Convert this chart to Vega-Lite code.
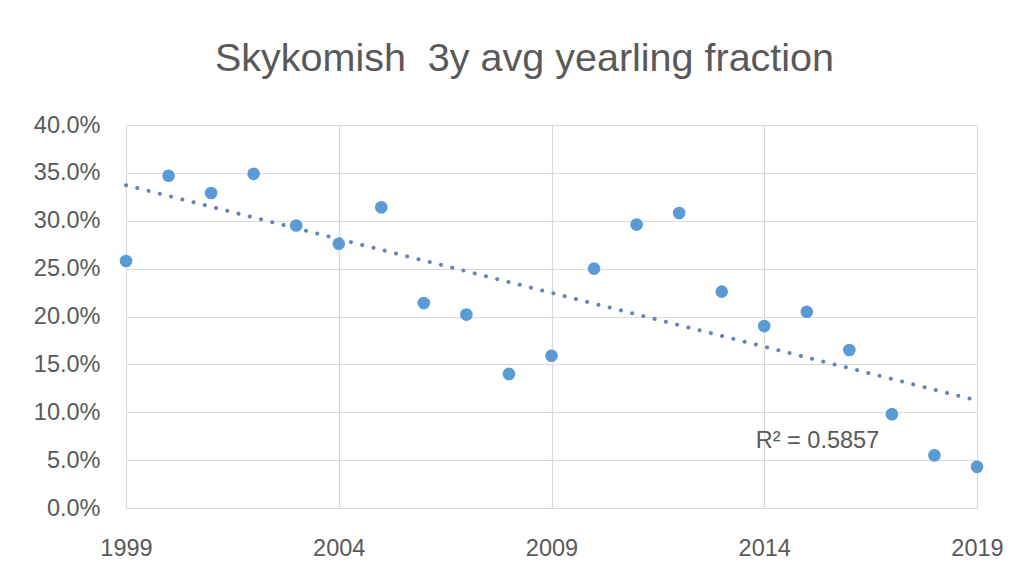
{
  "$schema": "https://vega.github.io/schema/vega-lite/v6.json",
  "autosize": "none",
  "width": 851,
  "height": 383,
  "padding": {"left": 126, "top": 125, "right": 54, "bottom": 70},
  "background": "white",
  "config": {
    "view": {"stroke": null},
    "font": "Liberation Sans",
    "axis": {
      "labelFont": "Liberation Sans",
      "labelFontSize": 23.5,
      "labelColor": "#595959",
      "gridColor": "#d9d9d9",
      "gridWidth": 1.2,
      "domain": false,
      "ticks": false,
      "title": null
    }
  },
  "title": {
    "text": "Skykomish\u00a0 3y avg yearling fraction",
    "font": "Liberation Sans",
    "fontSize": 39.5,
    "fontWeight": "normal",
    "color": "#595959",
    "anchor": "middle",
    "frame": "group",
    "dx": -27,
    "baseline": "alphabetic",
    "offset": 3
  },
  "layer": [
    {
      "data": {"name": "points"},
      "transform": [{"regression": "value", "on": "year", "extent": [1999, 2019]}],
      "mark": {"type": "line", "color": "#6585b5", "strokeWidth": 4, "strokeCap": "round", "strokeDash": [0.1, 11.5], "clip": false},
      "encoding": {
        "x": {
          "field": "year",
          "type": "quantitative",
          "scale": {"domain": [1999, 2019], "nice": false, "zero": false},
          "axis": {"values": [1999, 2004, 2009, 2014, 2019], "format": "d", "labelPadding": 28, "labelFlush": false}
        },
        "y": {
          "field": "value",
          "type": "quantitative",
          "scale": {"domain": [0, 0.4], "nice": false},
          "axis": {"values": [0, 0.05, 0.1, 0.15, 0.2, 0.25, 0.3, 0.35, 0.4], "format": ".1%", "labelPadding": 26}
        }
      }
    },
    {
      "data": {"name": "points"},
      "mark": {"type": "circle", "color": "#5b9bd5", "size": 160, "opacity": 1, "clip": false},
      "encoding": {
        "x": {"field": "year", "type": "quantitative"},
        "y": {"field": "value", "type": "quantitative"}
      }
    },
    {
      "data": {"name": "annotation"},
      "mark": {"type": "text", "align": "left", "baseline": "middle", "fontSize": 23.5, "color": "#595959", "font": "Liberation Sans"},
      "encoding": {
        "x": {"field": "year", "type": "quantitative"},
        "y": {"field": "value", "type": "quantitative"},
        "text": {"field": "label", "type": "nominal"}
      }
    }
  ],
  "datasets": {
    "points": [
      {"year": 1999, "value": 0.258},
      {"year": 2000, "value": 0.347},
      {"year": 2001, "value": 0.329},
      {"year": 2002, "value": 0.349},
      {"year": 2003, "value": 0.295},
      {"year": 2004, "value": 0.276},
      {"year": 2005, "value": 0.314},
      {"year": 2006, "value": 0.214},
      {"year": 2007, "value": 0.202},
      {"year": 2008, "value": 0.140},
      {"year": 2009, "value": 0.159},
      {"year": 2010, "value": 0.250},
      {"year": 2011, "value": 0.296},
      {"year": 2012, "value": 0.308},
      {"year": 2013, "value": 0.226},
      {"year": 2014, "value": 0.190},
      {"year": 2015, "value": 0.205},
      {"year": 2016, "value": 0.165},
      {"year": 2017, "value": 0.098},
      {"year": 2018, "value": 0.055},
      {"year": 2019, "value": 0.043}
    ],
    "annotation": [
      {"year": 2013.8, "value": 0.07, "label": "R² = 0.5857"}
    ]
  }
}
